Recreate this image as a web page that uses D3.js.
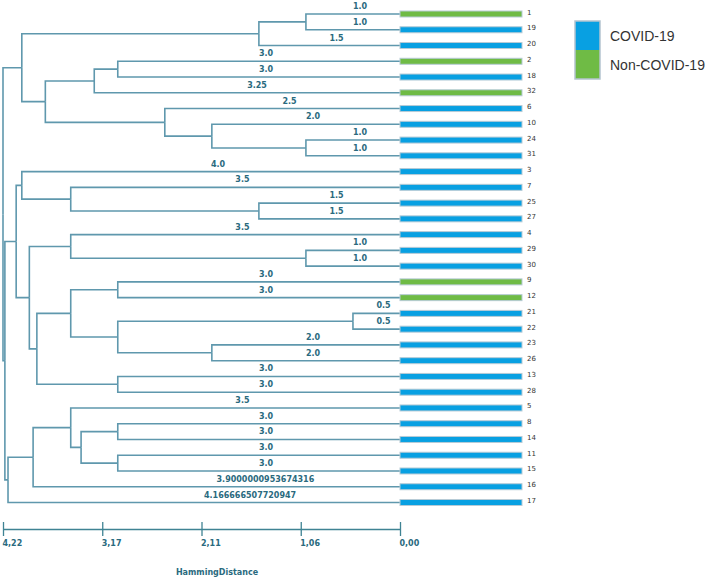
<!DOCTYPE html>
<html>
<head>
<meta charset="utf-8">
<script src="https://cdn.jsdelivr.net/npm/d3@7"></script>
<style>
  body { margin: 0; background: #fff; }
  svg { display: block; }
</style>
</head>
<body>
<div id="dendro"></div>
<script>
// leaves top to bottom
const leafOrder = ["1","19","20","2","18","32","6","10","24","31","3","7","25","27","4","29","30",
                   "9","12","21","22","23","26","13","28","5","8","14","11","15","16","17"];

const nonCovid = ["1","2","32","9","12"];

// branch length shown above each leaf's branch
const branchLabels = ["1.0","1.0","1.5","3.0","3.0","3.25","2.5","2.0","1.0","1.0","4.0","3.5","1.5","1.5",
                      "3.5","1.0","1.0","3.0","3.0","0.5","0.5","2.0","2.0","3.0","3.0","3.5","3.0","3.0",
                      "3.0","3.0","3.9000000953674316","4.166666507720947"];

// merges: [id, childA, childB, height]
const merges = [
    ["m1","1","19",1.0], ["m2","m1","20",1.5],
    ["m3","2","18",3.0], ["m4","m3","32",3.25],
    ["m5","24","31",1.0], ["m6","10","m5",2.0], ["m7","6","m6",2.5],
    ["m8","m4","m7",3.77], ["m9","m2","m8",4.02],
    ["m10","25","27",1.5], ["m11","7","m10",3.5], ["m12","3","m11",4.02],
    ["m13","29","30",1.0], ["m14","4","m13",3.5],
    ["m15","9","12",3.0], ["m16","21","22",0.5], ["m17","23","26",2.0], ["m18","m16","m17",3.0],
    ["m19","m15","m18",3.5], ["m20","13","28",3.0], ["m21","m19","m20",3.86],
    ["m22","m14","m21",3.94], ["m23","m12","m22",4.08],
    ["m24","8","14",3.0], ["m25","11","15",3.0], ["m26","m24","m25",3.39], ["m27","5","m26",3.5],
    ["m28","m27","16",3.9], ["m29","m28","17",4.1667],
    ["m30","m23","m29",4.2], ["root","m9","m30",4.22]
];

const axisTickValues = [4.22, 3.165, 2.11, 1.055, 0];
const axisTickLabels = ["4,22","3,17","2,11","1,06","0,00"];
const axisTitle = "HammingDistance";
const legendLabels = ["COVID-19","Non-COVID-19"];

const width = 709, height = 580;
const lineColor = "#5f98ad";
const textColor = "#2a6a7e";
const colors = {"COVID-19": "#08a0e2", "Non-COVID-19": "#6fbb45"};

const svg = d3.select("#dendro").append("svg")
    .attr("width", width)
    .attr("height", height);

const xScale = d3.scaleLinear().domain([4.22, 0]).range([3, 400]);
const yScale = d3.scalePoint().domain(leafOrder).range([14, 502.5]);

// build the tree from merges
const byId = {};
leafOrder.forEach((id, i) => {
    byId[id] = {id: id, height: 0, label: branchLabels[i],
                group: nonCovid.includes(id) ? "Non-COVID-19" : "COVID-19"};
});
merges.forEach(m => {
    byId[m[0]] = {id: m[0], height: m[3], children: [byId[m[1]], byId[m[2]]]};
});

const root = d3.hierarchy(byId["root"]);
root.eachAfter(n => {
    n.x = xScale(n.data.height);
    if (n.children) {
        n.y = (n.children[0].y + n.children[n.children.length - 1].y) / 2;
    } else {
        n.y = yScale(n.data.id);
    }
});

// elbow links
svg.append("g")
    .selectAll("path")
    .data(root.links())
    .enter()
    .append("path")
    .attr("d", l => `M${l.source.x},${l.source.y}V${l.target.y}H${l.target.x}`)
    .attr("fill", "none")
    .attr("stroke", lineColor)
    .attr("stroke-width", 1.6);

const leaves = root.leaves();

// branch length labels
svg.append("g")
    .selectAll("text")
    .data(leaves)
    .enter()
    .append("text")
    .attr("x", d => (d.parent.x + d.x) / 2)
    .attr("y", d => d.y - 5)
    .attr("font-family", "DejaVu Sans, Verdana, sans-serif")
    .attr("font-weight", "bold")
    .attr("font-size", 8)
    .attr("fill", textColor)
    .text(d => d.data.label);

// bars
const barX = 400, barW = 122;
svg.append("g")
    .selectAll("rect")
    .data(leaves)
    .enter()
    .append("rect")
    .attr("x", barX)
    .attr("y", d => d.y - 3)
    .attr("width", barW)
    .attr("height", 6)
    .attr("fill", d => colors[d.data.group])
    .attr("stroke", "#b7cbd6")
    .attr("stroke-width", 1);

// leaf names
svg.append("g")
    .selectAll("text")
    .data(leaves)
    .enter()
    .append("text")
    .attr("x", 527)
    .attr("y", d => d.y + 0.5)
    .attr("font-family", "DejaVu Sans, Verdana, sans-serif")
    .attr("font-size", 7)
    .attr("fill", "#333")
    .text(d => d.data.id);

// axis
const axisG = svg.append("g")
    .attr("transform", "translate(0,522)")
    .call(d3.axisBottom(xScale)
        .tickValues(axisTickValues)
        .tickFormat((d, i) => axisTickLabels[i])
        .tickSize(14)
        .tickSizeOuter(0)
        .tickPadding(4));

axisG.select(".domain")
    .attr("transform", "translate(0,7)")
    .attr("stroke", "#3f8393")
    .attr("stroke-width", 1.3);
axisG.selectAll(".tick line")
    .attr("stroke", "#3f8393")
    .attr("stroke-width", 1.3);
axisG.selectAll(".tick text")
    .attr("text-anchor", "start")
    .attr("x", -1)
    .attr("font-family", "DejaVu Sans, Verdana, sans-serif")
    .attr("font-weight", "bold")
    .attr("font-size", 8)
    .attr("fill", textColor);

svg.append("text")
    .attr("x", 217)
    .attr("y", 575)
    .attr("text-anchor", "middle")
    .attr("font-family", "DejaVu Sans, Verdana, sans-serif")
    .attr("font-weight", "bold")
    .attr("font-size", 8)
    .attr("fill", textColor)
    .text(axisTitle);

// legend
const legend = svg.append("g").attr("transform", "translate(575,21)");
legend.selectAll("rect")
    .data(legendLabels)
    .enter()
    .append("rect")
    .attr("x", 0)
    .attr("y", (d, i) => i * 29)
    .attr("width", 25)
    .attr("height", 29)
    .attr("fill", d => colors[d]);
legend.append("rect")
    .attr("width", 25)
    .attr("height", 58)
    .attr("fill", "none")
    .attr("stroke", "#b4c4cf")
    .attr("stroke-width", 1.5);
legend.selectAll("text")
    .data(legendLabels)
    .enter()
    .append("text")
    .attr("x", 35)
    .attr("y", (d, i) => i * 29 + 20)
    .attr("font-family", "Liberation Sans, Arial, sans-serif")
    .attr("font-size", 14)
    .attr("fill", "#333")
    .text(d => d);
</script>
</body>
</html>
